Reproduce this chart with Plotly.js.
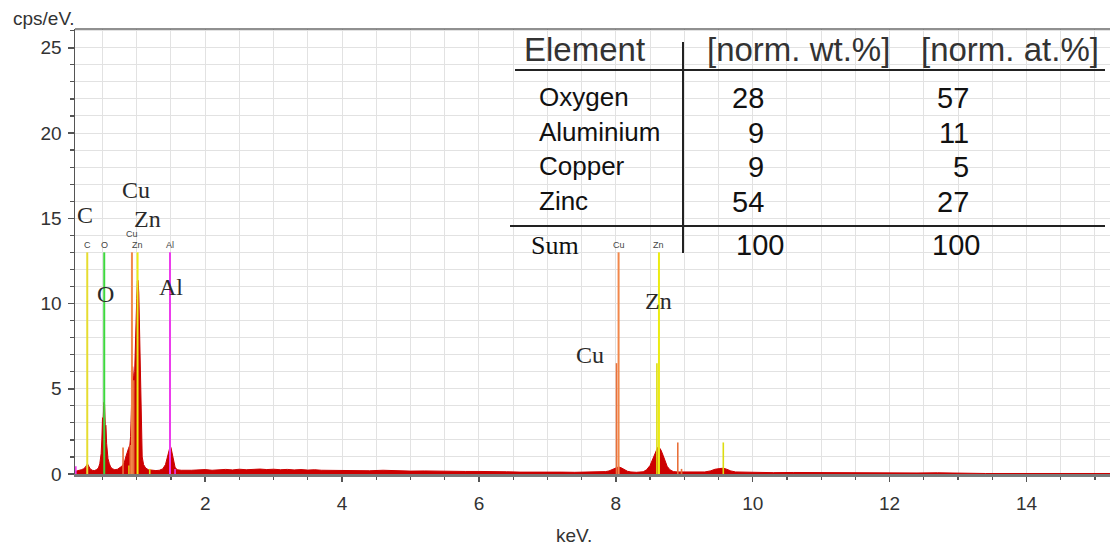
<!DOCTYPE html>
<html><head><meta charset="utf-8">
<script src="https://cdn.plot.ly/plotly-3.0.1.min.js"></script>
<style>html,body{margin:0;padding:0;background:#fff}#chart{width:1110px;height:547px}</style>
</head><body><div id="chart"></div>
<script>
// ---- spectrum (keV, cps/eV) ----
const energy = [0.10,0.13,0.16,0.19,0.22,0.25,0.27,0.28,0.30,0.32,0.35,0.38,0.41,0.44,0.46,0.48,0.49,0.50,0.51,0.52,0.53,0.54,0.55,0.56,0.57,0.58,0.60,0.62,0.65,0.68,0.72,0.75,0.78,0.80,0.82,0.84,0.86,0.88,0.90,0.91,0.92,0.93,0.94,0.95,0.96,0.97,0.98,0.99,1.00,1.01,1.02,1.03,1.04,1.05,1.06,1.07,1.08,1.10,1.13,1.17,1.22,1.28,1.33,1.38,1.42,1.44,1.46,1.48,1.49,1.50,1.52,1.54,1.56,1.59,1.65,
1.8,1.9,2.0,2.1,2.2,2.3,2.4,2.5,2.6,2.7,2.8,2.9,3.0,3.1,3.2,3.3,3.4,3.5,3.6,3.7,3.8,3.9,4.0,4.2,4.4,4.6,4.8,5.0,5.2,5.4,5.6,5.8,6.0,6.2,6.4,6.6,6.8,7.0,7.2,7.4,7.6,7.8,7.85,7.9,7.95,8.0,8.04,8.08,8.12,8.17,8.22,8.3,8.4,8.45,8.50,8.54,8.58,8.61,8.63,8.66,8.69,8.72,8.75,8.79,8.84,8.9,9.0,9.1,9.2,9.3,9.38,9.45,9.52,9.57,9.62,9.68,9.75,9.9,10.0,10.3,10.6,10.9,11.2,11.5,11.8,12.1,12.4,12.7,13.0,13.3,13.4,15.22];
const counts = [0.15,0.20,0.22,0.25,0.30,0.40,0.55,0.60,0.45,0.30,0.22,0.20,0.25,0.35,0.60,1.20,2.00,3.30,3.25,4.20,4.10,2.90,2.85,1.80,1.30,0.90,0.60,0.40,0.30,0.25,0.28,0.35,0.45,0.55,0.70,1.00,1.30,1.50,1.70,2.20,3.50,5.30,6.30,5.80,4.60,6.00,8.20,9.50,10.30,11.30,11.35,10.60,8.80,6.20,3.80,2.00,1.00,0.55,0.35,0.25,0.22,0.20,0.22,0.30,0.55,0.90,1.30,1.60,1.65,1.55,1.20,0.70,0.40,0.25,0.22,
0.22,0.24,0.26,0.22,0.25,0.27,0.24,0.28,0.25,0.27,0.29,0.26,0.28,0.25,0.27,0.24,0.26,0.23,0.25,0.22,0.21,0.23,0.20,0.21,0.19,0.22,0.18,0.17,0.18,0.16,0.17,0.15,0.15,0.12,0.13,0.11,0.12,0.10,0.11,0.10,0.11,0.12,0.14,0.18,0.25,0.35,0.42,0.36,0.25,0.16,0.12,0.10,0.13,0.25,0.50,0.90,1.30,1.55,1.58,1.40,1.10,0.75,0.45,0.25,0.14,0.12,0.11,0.10,0.10,0.12,0.18,0.28,0.32,0.34,0.28,0.18,0.12,0.10,0.09,0.08,0.09,0.08,0.08,0.07,0.08,0.07,0.06,0.07,0.05,0.05,0.03,0.03];

// ---- element marker lines ----
const markerElements = ['C','O','Cu','Zn','Al','Cu','Zn'];
const markerEnergy   = [0.277,0.525,0.930,1.012,1.486,8.040,8.630];
const markerHeight   = [13,13,13,13,13,13,13];
// short secondary lines
const subElements = ['Cu','Zn','Cu','Cu','Zn','Cu','Zn','Cu','Cu','Zn','Al','Al'];
const subEnergy   = [8.010,8.600,8.905,8.960,9.570,0.800,0.887,0.905,0.955,1.190,1.560,0.110];
const subHeight   = [6.5,6.5,1.85,0.30,1.85,1.55,0.50,1.70,5.50,0.30,0.30,0.45];

// ---- composition table ----
const tableHeader   = ['Element','[norm. wt.%]','[norm. at.%]'];
const tableElements = ['Oxygen','Aluminium','Copper','Zinc'];
const tableWt = [28,9,9,54];
const tableAt = [57,11,5,27];
const sumLabel = 'Sum';
const sumWt = 100, sumAt = 100;

// ---- styling ----
const elColor = {C:'#e6dc30', O:'#3ed83e', Cu:'#f2874a', Zn:'#ecec12', Al:'#ec3cec'};
const subColor = {C:'#e6dc30', O:'#3ed83e', Cu:'#e8703a', Zn:'#dcdc10', Al:'#ec3cec'};
const L=75, R=1110, T=29, B=474;
const px = x => (x-L)/(R-L);
const py = y => (B-y)/(B-T);
const sans = 'Liberation Sans, Arial, sans-serif';
const serif = 'Liberation Serif, Times New Roman, serif';

const traces = [{
  type:'scatter', mode:'lines', x:energy, y:counts,
  fill:'tozeroy', fillcolor:'#cc0000',
  line:{color:'#cc0000', width:1}, hoverinfo:'skip'
}];
subEnergy.forEach((e,i)=>traces.push({
  type:'scatter', mode:'lines', x:[e,e], y:[0,subHeight[i]],
  line:{color:subColor[subElements[i]], width:1.6}, hoverinfo:'skip'
}));
markerEnergy.forEach((e,i)=>traces.push({
  type:'scatter', mode:'lines', x:[e,e], y:[0,markerHeight[i]],
  line:{color:elColor[markerElements[i]], width:2}, hoverinfo:'skip'
}));

const ann = [];
// small labels above markers (stacked when close together)
markerEnergy.forEach((e,i)=>{
  const close = i>0 && Math.abs(e-markerEnergy[i-1])<0.15;
  ann.push({x:e, y:markerHeight[i], xref:'x', yref:'y', text:markerElements[i],
    showarrow:false, yanchor:'bottom', yshift:0,
    font:{family:sans, size:9, color:'#444'}});
  if(close){ ann[ann.length-2].yshift = 11; }
});
// large serif labels
[['C',85,215],['Cu',136,190],['Zn',147,219],['O',105,294],['Al',171,287],['Cu',590,355],['Zn',658,301]]
.forEach(([t,x,y])=>ann.push({x:px(x), y:py(y), xref:'paper', yref:'paper', text:t, showarrow:false,
  xanchor:'center', yanchor:'middle', font:{family:serif, size:24, color:'#2a2a2a'}}));
// axis titles
ann.push({x:px(44), y:py(19), xref:'paper', yref:'paper', text:'cps/eV.', showarrow:false,
  xanchor:'center', yanchor:'middle', font:{family:sans, size:19, color:'#333'}});
ann.push({x:px(574), y:py(535), xref:'paper', yref:'paper', text:'keV.', showarrow:false,
  xanchor:'center', yanchor:'middle', font:{family:sans, size:19, color:'#333'}});
// table
const headX = [584, 798, 1010];
tableHeader.forEach((t,i)=>ann.push({x:px(headX[i]), y:py(50), xref:'paper', yref:'paper', text:t,
  showarrow:false, xanchor:'center', yanchor:'middle', font:{family:sans, size:33, color:'#333'}}));
const rowY = [97,132,166,201];
tableElements.forEach((t,i)=>{
  ann.push({x:px(537), y:py(rowY[i]), xref:'paper', yref:'paper', text:t, showarrow:false,
    xanchor:'left', yanchor:'middle', font:{family:sans, size:26, color:'#111'}});
  ann.push({x:px(766), y:py(rowY[i]+1), xref:'paper', yref:'paper', text:String(tableWt[i]), showarrow:false,
    xanchor:'right', yanchor:'middle', font:{family:sans, size:29, color:'#111'}});
  ann.push({x:px(971), y:py(rowY[i]+1), xref:'paper', yref:'paper', text:String(tableAt[i]), showarrow:false,
    xanchor:'right', yanchor:'middle', font:{family:sans, size:29, color:'#111'}});
});
ann.push({x:px(529), y:py(245), xref:'paper', yref:'paper', text:sumLabel, showarrow:false,
  xanchor:'left', yanchor:'middle', font:{family:serif, size:26, color:'#111'}});
ann.push({x:px(760), y:py(245), xref:'paper', yref:'paper', text:String(sumWt), showarrow:false,
  xanchor:'center', yanchor:'middle', font:{family:sans, size:29, color:'#111'}});
ann.push({x:px(956), y:py(245), xref:'paper', yref:'paper', text:String(sumAt), showarrow:false,
  xanchor:'center', yanchor:'middle', font:{family:sans, size:29, color:'#111'}});

const shapes = [
  // white table backgrounds (between grid and traces)
  {type:'rect', xref:'paper', yref:'paper', x0:px(512), x1:px(982), y0:py(225), y1:py(71), fillcolor:'#fff', line:{width:0}, layer:'between'},
  {type:'rect', xref:'paper', yref:'paper', x0:px(688), x1:px(1010), y0:py(268), y1:py(227), fillcolor:'#fff', line:{width:0}, layer:'between'},
  // table lines
  {type:'line', xref:'paper', yref:'paper', x0:px(515), x1:px(1105), y0:py(70), y1:py(70), line:{color:'#222', width:2}},
  {type:'line', xref:'paper', yref:'paper', x0:px(510), x1:px(1105), y0:py(226), y1:py(226), line:{color:'#222', width:2}},
  {type:'line', xref:'paper', yref:'paper', x0:px(683), x1:px(683), y0:py(42), y1:py(253), line:{color:'#222', width:2}},
  // top frame line
  {type:'line', xref:'paper', yref:'paper', x0:0, x1:1, y0:1, y1:1, line:{color:'#222', width:1.2}}
];

const layout = {
  width:1110, height:547, margin:{l:L, r:1110-R, t:T, b:547-B},
  paper_bgcolor:'#fff', plot_bgcolor:'#fff', showlegend:false,
  xaxis:{range:[0.098,15.22], tick0:0, dtick:2, ticks:'outside', ticklen:5, tickwidth:1.5, tickcolor:'#555',
    showline:true, linecolor:'#7a7a7a', linewidth:2.5, showgrid:true, gridcolor:'#e2e2e2', gridwidth:1,
    zeroline:false, ticklabelstandoff:6, tickfont:{family:sans, size:19, color:'#333'},
    minor:{tick0:0, dtick:0.5, ticks:'outside', ticklen:3, tickwidth:1.2, tickcolor:'#555', showgrid:true, gridcolor:'#e2e2e2', gridwidth:1}},
  yaxis:{range:[0,26.1], tick0:0, dtick:5, ticks:'outside', ticklen:6, tickwidth:1.5, tickcolor:'#555',
    showline:true, linecolor:'#555', linewidth:1.5, showgrid:true, gridcolor:'#e2e2e2', gridwidth:1,
    zeroline:false, ticklabelstandoff:2, tickfont:{family:sans, size:19, color:'#333'},
    minor:{tick0:0, dtick:1, ticks:'outside', ticklen:4, tickwidth:1.2, tickcolor:'#555', showgrid:true, gridcolor:'#e2e2e2', gridwidth:1}},
  annotations:ann, shapes:shapes
};
Plotly.newPlot('chart', traces, layout, {displayModeBar:false, staticPlot:true});
</script></body></html>
